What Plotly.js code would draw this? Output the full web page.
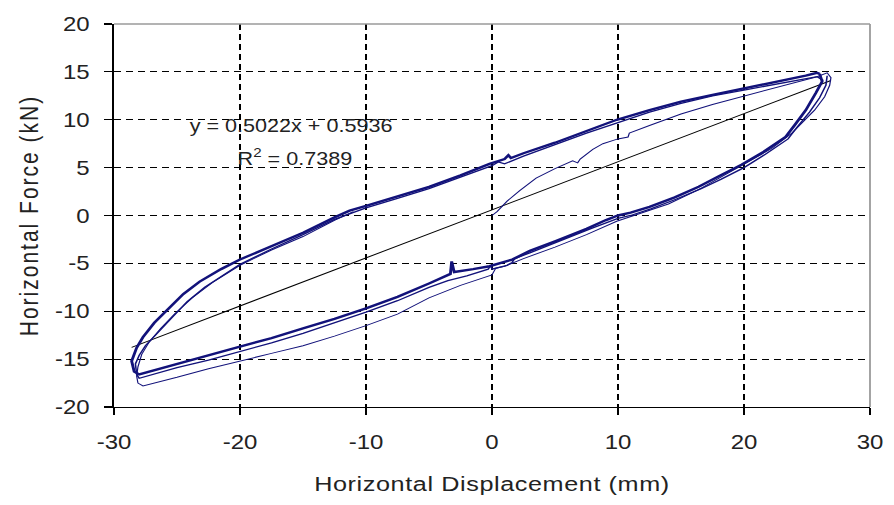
<!DOCTYPE html>
<html>
<head>
<meta charset="utf-8">
<script src="https://cdn.plot.ly/plotly-3.0.1.min.js"></script>
<style>
  html, body { margin: 0; padding: 0; background: #ffffff; overflow: hidden; }
  /* chart is laid out narrower and stretched sideways, like the original export */
  #chart { width: 745px; height: 505px; transform: scaleX(1.2); transform-origin: 0 0; }
  #chart .ytitle { letter-spacing: 2px; }
  #chart .g-ytitle { transform: translate(-11px, 0px); }
  #chart .xtitle { letter-spacing: 0.5px; }
</style>
</head>
<body>
<div id="chart"></div>
<script>
// Linear trendline reported by the fit
const slope = 0.5022;
const intercept = 0.5936;
const rSquared = 0.7389;

// Main hysteresis loop (heavy line), starting at the positive peak
const mainDisp = [26.0, 26.2, 25.7, 24.9, 24.0, 23.3, 21.5, 19.8, 18.0, 16.4, 14.5, 12.5, 11.0, 10.0,
  9.0, 7.5, 5.0, 3.0, 1.6, 0.5, -0.2, -1.5, -3.0, -3.2, -3.3, -5.0, -7.5, -10.0, -12.5, -15.0, -17.5,
  -20.0, -22.5, -25.0, -27.0, -28.0, -28.4, -28.6, -28.2, -27.7, -26.8, -25.8, -24.5, -23.2, -21.5,
  -20.0, -17.5, -15.0, -12.5, -11.3, -10.0, -7.5, -5.0, -2.5, -0.2, 1.0, 1.3, 1.5, 2.5, 5.0, 7.5, 9.9,
  12.5, 15.0, 17.5, 19.8, 22.5, 24.9, 25.8, 26.0];
const mainForce = [14.8, 14.0, 12.8, 11.0, 9.4, 8.2, 6.6, 5.3, 4.1, 3.0, 1.9, 0.9, 0.3, 0.0,
  -0.5, -1.4, -2.7, -3.7, -4.6, -5.0, -5.3, -5.6, -5.9, -4.8, -6.1, -7.1, -8.5, -9.7, -10.8, -11.8, -12.8,
  -13.7, -14.6, -15.5, -16.2, -16.6, -16.3, -15.2, -13.8, -12.7, -11.2, -9.9, -8.2, -6.9, -5.6,
  -4.6, -3.2, -1.8, -0.2, 0.5, 1.0, 2.0, 3.0, 4.2, 5.4, 5.9, 6.3, 6.0, 6.5, 7.6, 8.8, 10.0,
  11.0, 11.9, 12.6, 13.2, 13.9, 14.6, 14.9, 14.8];

// Second cycle, running just outside the main loop
const cycle2Disp = [26.6, 26.5, 26.0, 25.2, 24.2, 23.5, 21.7, 20.0, 18.2, 16.6, 14.6, 12.6, 11.0, 10.0,
  8.0, 5.0, 3.0, 1.8, 1.6, 1.2, 0.0, -0.1, -0.3, -2.0, -3.5, -5.0, -7.5, -10.0, -12.5, -15.0, -17.5,
  -20.0, -22.5, -25.0, -27.0, -28.0, -28.2, -28.3, -28.0, -27.5, -26.5, -25.5, -24.2, -22.8, -21.2,
  -20.0, -17.5, -15.0, -12.5, -10.0, -7.5, -5.0, -2.5, 0.0, 0.5, 1.0, 2.5, 5.0, 7.5, 10.0, 12.5,
  15.0, 17.5, 20.0, 22.5, 24.5, 25.8, 26.3];
const cycle2Force = [14.6, 13.6, 12.3, 10.8, 9.2, 8.0, 6.4, 5.0, 3.8, 2.8, 1.7, 0.7, 0.0, -0.3,
  -1.3, -2.9, -3.9, -4.5, -4.9, -5.2, -5.6, -5.2, -5.6, -6.3, -6.8, -7.5, -8.9, -10.1, -11.2, -12.3, -13.3,
  -14.2, -15.1, -15.9, -16.6, -17.0, -16.6, -15.5, -14.6, -13.6, -12.2, -10.8, -9.0, -7.5, -6.1,
  -5.1, -3.5, -2.0, -0.4, 0.8, 1.8, 2.8, 4.0, 5.2, 5.6, 5.4, 6.2, 7.4, 8.6, 9.7, 10.8,
  11.7, 12.5, 13.1, 13.7, 14.2, 14.5, 14.1];

// First loading from rest, then the widest unloading/reloading pass (light line)
const firstDisp = [0.0, 0.4, 1.2, 2.2, 3.5, 5.0, 6.4, 6.8, 7.0, 8.0, 8.8, 10.0, 10.8, 10.9, 12.5,
  15.0, 17.5, 19.8, 22.5, 24.5, 25.8, 26.6, 26.9, 26.8, 26.4, 25.6, 24.6, 23.8, 22.2, 20.6, 18.6,
  16.4, 14.0, 11.1, 9.9, 7.5, 5.0, 2.5, 1.0, 0.3, 0.0, -2.5, -5.0, -7.5, -10.0, -12.5, -15.0,
  -17.5, -20.0, -22.5, -25.0, -26.5, -27.7, -28.1, -28.2, -28.1, -27.8, -27.2, -26.3, -25.2, -23.8,
  -22.2, -20.0, -17.5, -15.0, -12.5, -11.0];
const firstForce = [0.0, 0.4, 1.5, 2.6, 3.9, 4.9, 5.7, 5.5, 5.9, 6.9, 7.5, 8.0, 8.2, 8.6, 9.4,
  10.6, 11.6, 12.4, 13.3, 14.0, 14.5, 14.9, 14.4, 13.6, 12.4, 11.0, 9.6, 8.6, 7.0, 5.8, 4.3,
  2.7, 1.2, -0.1, -0.6, -2.0, -3.3, -4.5, -5.3, -5.5, -6.2, -7.3, -8.6, -10.3, -11.5, -12.6, -13.6,
  -14.4, -15.2, -16.0, -16.9, -17.4, -17.8, -17.5, -16.8, -15.8, -14.5, -13.2, -11.8, -10.3, -8.6,
  -7.0, -5.2, -3.6, -2.2, -0.5, 0.4];

// Axis ticks
const xTicks = [-30, -20, -10, 0, 10, 20, 30];
const yTicks = [-20, -15, -10, -5, 0, 5, 10, 15, 20];

const allDisp = mainDisp.concat(cycle2Disp, firstDisp);
const fitX = [Math.min(...allDisp), Math.max(...allDisp)];
const fitY = fitX.map(x => slope * x + intercept);

const loopColor = '#12127a';
const fontFamily = 'Arial, "Liberation Sans", sans-serif';

const traces = [
  { x: fitX, y: fitY, mode: 'lines', line: { color: '#000000', width: 1 }, hoverinfo: 'skip' },
  { x: firstDisp, y: firstForce, mode: 'lines', line: { color: loopColor, width: 1 } },
  { x: cycle2Disp, y: cycle2Force, mode: 'lines', line: { color: loopColor, width: 1.3 } },
  { x: mainDisp, y: mainForce, mode: 'lines', line: { color: loopColor, width: 2.4 } }
];

const axisCommon = {
  showline: true, linecolor: '#000000', linewidth: 1.3,
  ticks: 'outside', ticklen: 7, tickwidth: 1.2, tickcolor: '#000000',
  showgrid: true, gridcolor: '#000000', gridwidth: 1.2, griddash: '6px,4px',
  zeroline: false,
  tickfont: { family: fontFamily, size: 20, color: '#222222' }
};

const layout = {
  width: 745, height: 505,
  margin: { l: 94.6, r: 20, t: 24, b: 98 },
  paper_bgcolor: '#ffffff', plot_bgcolor: '#ffffff',
  showlegend: false,
  xaxis: Object.assign({}, axisCommon, {
    range: [-30, 30], tickmode: 'array', tickvals: xTicks, ticktext: xTicks.map(String),
    ticklabelstandoff: 10,
    title: { text: 'Horizontal Displacement (mm)', font: { family: fontFamily, size: 21, color: '#222222' }, standoff: 24 }
  }),
  yaxis: Object.assign({}, axisCommon, {
    range: [-20, 20], tickmode: 'array', tickvals: yTicks, ticktext: yTicks.map(String),
    ticklabelstandoff: 8,
    title: { text: 'Horizontal Force (kN)', font: { family: fontFamily, size: 21, color: '#222222' } }
  }),
  shapes: [
    { type: 'line', xref: 'paper', yref: 'paper', x0: 0, x1: 1, y0: 1, y1: 1, line: { color: '#9a9a9a', width: 1.5 } },
    { type: 'line', xref: 'paper', yref: 'paper', x0: 1, x1: 1, y0: 0, y1: 1, line: { color: '#9a9a9a', width: 1.5 } }
  ],
  annotations: [
    { xref: 'x', yref: 'y', x: -16, y: 9.3, showarrow: false,
      text: 'y = ' + slope.toFixed(4) + 'x + ' + intercept.toFixed(4),
      font: { family: fontFamily, size: 18, color: '#222222' } },
    { xref: 'x', yref: 'y', x: -15.6, y: 6.1, showarrow: false,
      text: 'R<sup>2</sup> = ' + rSquared.toFixed(4),
      font: { family: fontFamily, size: 18, color: '#222222' } }
  ]
};

Plotly.newPlot('chart', traces, layout, { staticPlot: true, displayModeBar: false });
</script>
</body>
</html>
